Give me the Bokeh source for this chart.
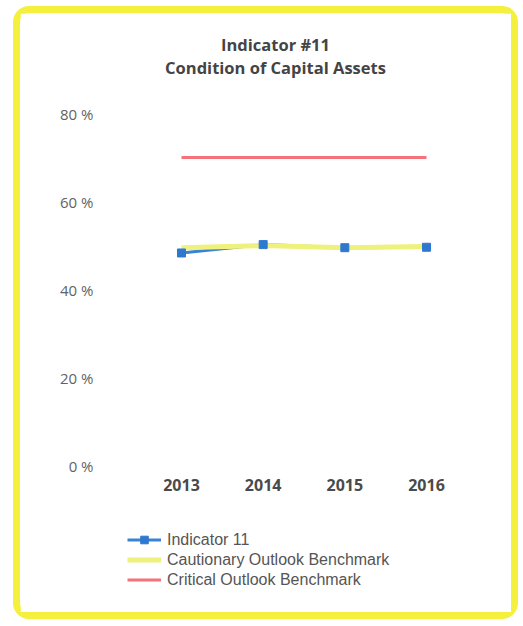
from bokeh.plotting import figure
from bokeh.layouts import column
from bokeh.models import (FixedTicker, Range1d, Title, Legend, LegendItem, ColumnDataSource)
from bokeh.embed import file_html
from bokeh.resources import INLINE

# ---- data ----
years = [2013, 2014, 2015, 2016]
indicator_11 = [48.3, 50.2, 49.5, 49.6]
cautionary = [49.5, 50.0, 49.5, 49.8]
critical = [70, 70, 70, 70]
y_ticks = [0, 20, 40, 60, 80]
y_tick_labels = ["0 %", "20 %", "40 %", "60 %", "80 %"]
title_line1 = "Indicator #11"
title_line2 = "Condition of Capital Assets"
series_names = ["Indicator 11", "Cautionary Outlook Benchmark", "Critical Outlook Benchmark"]

IND_COLOR, CAU_COLOR, CRI_COLOR, MK_COLOR = "#3a82d2", "#eef27c", "#f4737b", "#2f78cf"

src = ColumnDataSource(dict(year=years, ind=indicator_11, cau=cautionary, cri=critical))

W = 491
p = figure(width=W, height=490, output_backend="svg", toolbar_location=None,
           title=None, x_range=Range1d(2011.9225, 2016.3795), y_range=Range1d(0, 80),
           min_border_left=73, min_border_right=54, min_border_top=100, min_border_bottom=38)
p.outline_line_color = None
p.xgrid.grid_line_color = None
p.ygrid.grid_line_color = None
p.background_fill_color = "white"
p.border_fill_color = "white"

# axes
for ax in (p.xaxis[0], p.yaxis[0]):
    ax.axis_line_color = None
    ax.major_tick_line_color = None
    ax.minor_tick_line_color = None
    ax.major_tick_out = 0
    ax.major_tick_in = 0
    ax.minor_tick_out = 0
    ax.minor_tick_in = 0

p.xaxis.ticker = FixedTicker(ticks=years)
p.xaxis.major_label_text_font = "Open Sans"
p.xaxis.major_label_text_font_size = "16px"
p.xaxis.major_label_text_font_style = "bold"
p.xaxis.major_label_text_color = "#4a4a4a"
p.xaxis.major_label_standoff = 13

p.yaxis.ticker = FixedTicker(ticks=y_ticks)
p.yaxis.major_label_overrides = {t: l for t, l in zip(y_ticks, y_tick_labels)}
p.yaxis.major_label_text_font = "Open Sans"
p.yaxis.major_label_text_font_size = "15px"
p.yaxis.major_label_text_color = "#636363"
p.yaxis.major_label_standoff = 0

# titles: spacer nearest the frame, then the two title lines
spacer = Title(text=" ", align="center", text_font="Open Sans", text_font_size="10px", standoff=19)
t2 = Title(text=title_line2, align="center", text_font="Open Sans", text_font_size="16.5px",
           text_font_style="bold", text_color="#444444", standoff=0)
t1 = Title(text=title_line1, align="center", text_font="Open Sans", text_font_size="16.5px",
           text_font_style="bold", text_color="#444444", standoff=-4)
p.add_layout(spacer, "above")
p.add_layout(t2, "above")
p.add_layout(t1, "above")

# series
p.line("year", "ind", source=src, line_color=IND_COLOR, line_width=3)
p.line("year", "cau", source=src, line_color=CAU_COLOR, line_width=5)
p.line("year", "cri", source=src, line_color=CRI_COLOR, line_width=3)
p.scatter("year", "ind", source=src, marker="square", size=8,
          fill_color=MK_COLOR, line_color=MK_COLOR)

# ---- legend panel (separate figure below the chart; its view range excludes the data) ----
pl = figure(width=W, height=109, output_backend="svg", toolbar_location=None, title=None,
            x_range=Range1d(0, 1), y_range=Range1d(0, 1),
            x_axis_location=None, y_axis_location=None,
            min_border_left=0, min_border_right=0, min_border_top=0, min_border_bottom=0)
pl.outline_line_color = None
pl.xgrid.grid_line_color = None
pl.ygrid.grid_line_color = None
pl.background_fill_color = "white"
pl.border_fill_color = "white"
l_ind = pl.line("year", "ind", source=src, line_color=IND_COLOR, line_width=3)
l_mk = pl.scatter("year", "ind", source=src, marker="square", size=8,
                  fill_color=MK_COLOR, line_color=MK_COLOR)
l_cau = pl.line("year", "cau", source=src, line_color=CAU_COLOR, line_width=5)
l_cri = pl.line("year", "cri", source=src, line_color=CRI_COLOR, line_width=3)

legend = Legend(items=[
    LegendItem(label=series_names[0], renderers=[l_ind, l_mk], index=0),
    LegendItem(label=series_names[1], renderers=[l_cau], index=0),
    LegendItem(label=series_names[2], renderers=[l_cri], index=0),
], location=(34, 23), orientation="vertical")
legend.border_line_color = None
legend.background_fill_alpha = 0
legend.padding = 0
legend.margin = 0
legend.spacing = 1
legend.glyph_width = 34
legend.glyph_height = 19
legend.label_height = 19
legend.label_standoff = 6
legend.label_text_font = "Liberation Sans"
legend.label_text_font_size = "16px"
legend.label_text_color = "#555555"
pl.add_layout(legend, "center")

layout = column(p, pl, spacing=0)
layout.styles = {"border": "7px solid #f5ef3e", "border-radius": "16px",
                 "margin-left": "13px", "margin-top": "6px", "background-color": "white"}

open("out.html", "w").write(file_html(layout, INLINE))
